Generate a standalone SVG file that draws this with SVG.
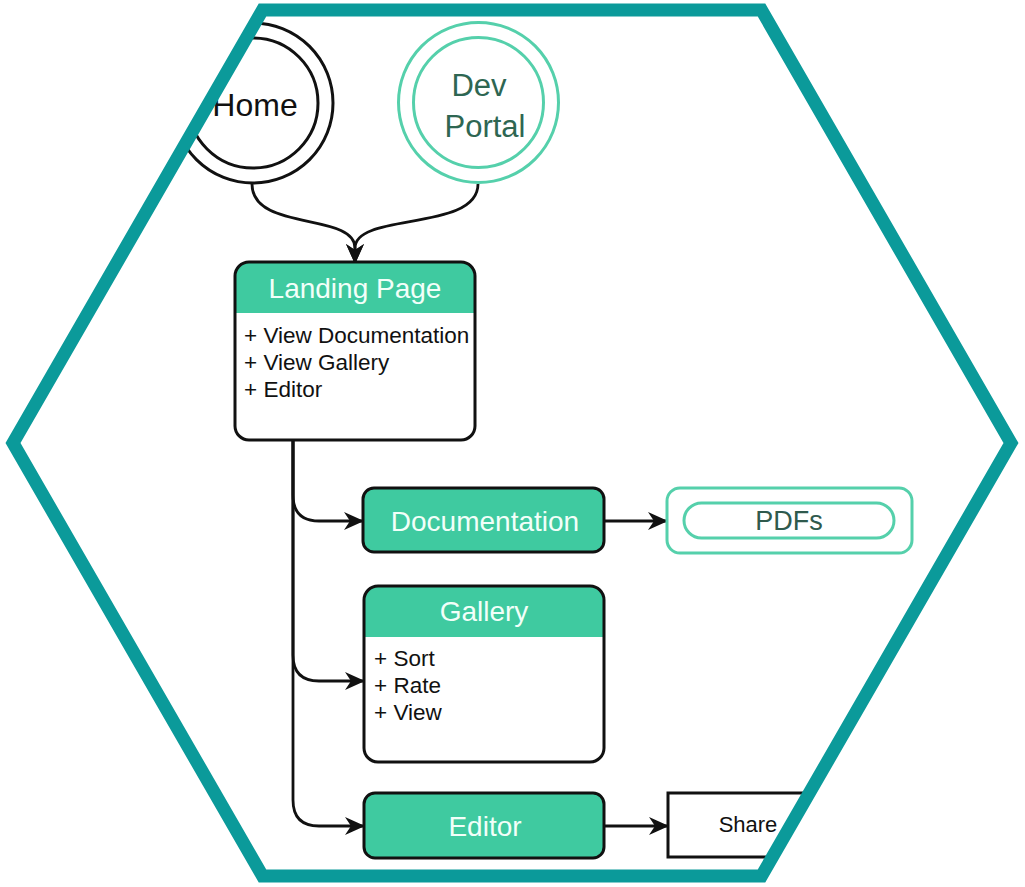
<svg xmlns="http://www.w3.org/2000/svg" width="1025" height="887" viewBox="0 0 1025 887">
<style>
.txt{font-family:"Liberation Sans",Arial,sans-serif}
.box{stroke:#111;stroke-width:3}
.green{fill:#3fcaa0}
.hdr{fill:#f2fff9;font-size:28px;text-anchor:middle}
.item{fill:#111;font-size:22.5px}
.edge{fill:none;stroke:#111;stroke-width:2.8}
.mint{fill:none;stroke:#55d0ab;stroke-width:3}
</style>
<defs>
<clipPath id="hexclip"><polygon points="13,443 262.5,10 761.5,10 1011,443 761.5,876 262.5,876"/></clipPath>
<marker id="arr" viewBox="0 0 20 18" refX="19" refY="9" markerWidth="20" markerHeight="18" markerUnits="userSpaceOnUse" orient="auto">
<path d="M0,0 L20,9 L0,18 L6,9 Z" fill="#111"/>
</marker>
</defs>
<rect width="1025" height="887" fill="#ffffff"/>
<g clip-path="url(#hexclip)">
<g id="connectors">
<path class="edge" d="M252,184 C252,232 355,212 355,248 L355,263" marker-end="url(#arr)"/>
<path class="edge" d="M478,184 C478,232 355,212 355,248 L355,263" marker-end="url(#arr)"/>
<path class="edge" d="M293,441 L293,495 Q293,521 319,521 L363,521" marker-end="url(#arr)"/>
<path class="edge" d="M293,441 L293,655 Q293,681 319,681 L364,681" marker-end="url(#arr)"/>
<path class="edge" d="M293,441 L293,800 Q293,826 319,826 L364,826" marker-end="url(#arr)"/>
<path class="edge" d="M604,521 L667,521" marker-end="url(#arr)"/>
<path class="edge" d="M604,826 L668,826" marker-end="url(#arr)"/>
</g>
<g id="home">
<circle cx="253" cy="103" r="80" fill="#fff" stroke="#111" stroke-width="3"/>
<circle cx="253" cy="103" r="65" fill="none" stroke="#111" stroke-width="3"/>
<text class="txt" x="255" y="116" font-size="32" text-anchor="middle" fill="#111">Home</text>
</g>
<g id="devportal">
<circle cx="478.5" cy="102.5" r="80" fill="#fff" stroke="#55d0ab" stroke-width="3"/>
<circle cx="478.5" cy="102.5" r="65" fill="none" stroke="#55d0ab" stroke-width="3"/>
<text class="txt" x="479" y="96" font-size="31" text-anchor="middle" fill="#2e6652">Dev</text>
<text class="txt" x="485" y="137" font-size="31" text-anchor="middle" fill="#2e6652">Portal</text>
</g>
<g id="landing">
<rect x="235" y="262" width="240" height="178" rx="14" fill="#fff"/>
<path class="green" d="M235,313 L235,276 Q235,262 249,262 L461,262 Q475,262 475,276 L475,313 Z"/>
<rect class="box" x="235" y="262" width="240" height="178" rx="14" fill="none"/>
<text class="txt hdr" x="355" y="298">Landing Page</text>
<text class="txt item" x="244" y="343">+ View Documentation</text>
<text class="txt item" x="244" y="370">+ View Gallery</text>
<text class="txt item" x="244" y="397">+ Editor</text>
</g>
<g id="documentation">
<rect class="box green" x="363" y="488" width="241" height="64" rx="11"/>
<text class="txt hdr" x="485" y="531">Documentation</text>
</g>
<g id="pdfs">
<rect class="mint" x="667" y="488" width="245" height="65" rx="13"/>
<rect class="mint" x="684" y="503" width="210" height="35" rx="17.5"/>
<text class="txt" x="789" y="530" font-size="27" text-anchor="middle" fill="#2f5a4d">PDFs</text>
</g>
<g id="gallery">
<rect x="364" y="586" width="240" height="176" rx="14" fill="#fff"/>
<path class="green" d="M364,637 L364,600 Q364,586 378,586 L590,586 Q604,586 604,600 L604,637 Z"/>
<rect class="box" x="364" y="586" width="240" height="176" rx="14" fill="none"/>
<text class="txt hdr" x="484" y="621">Gallery</text>
<text class="txt item" x="374" y="666">+ Sort</text>
<text class="txt item" x="374" y="693">+ Rate</text>
<text class="txt item" x="374" y="720">+ View</text>
</g>
<g id="editor">
<rect class="box green" x="364" y="793" width="240" height="65" rx="11"/>
<text class="txt hdr" x="485" y="836">Editor</text>
</g>
<g id="share">
<rect x="668" y="793" width="160" height="64" fill="#fff" stroke="#111" stroke-width="3"/>
<text class="txt" x="748" y="832" font-size="22" text-anchor="middle" fill="#111">Share</text>
</g>
</g>
<polygon points="13,443 262.5,10 761.5,10 1011,443 761.5,876 262.5,876" fill="none" stroke="#0b9a9a" stroke-width="13" stroke-linejoin="miter"/>
</svg>
